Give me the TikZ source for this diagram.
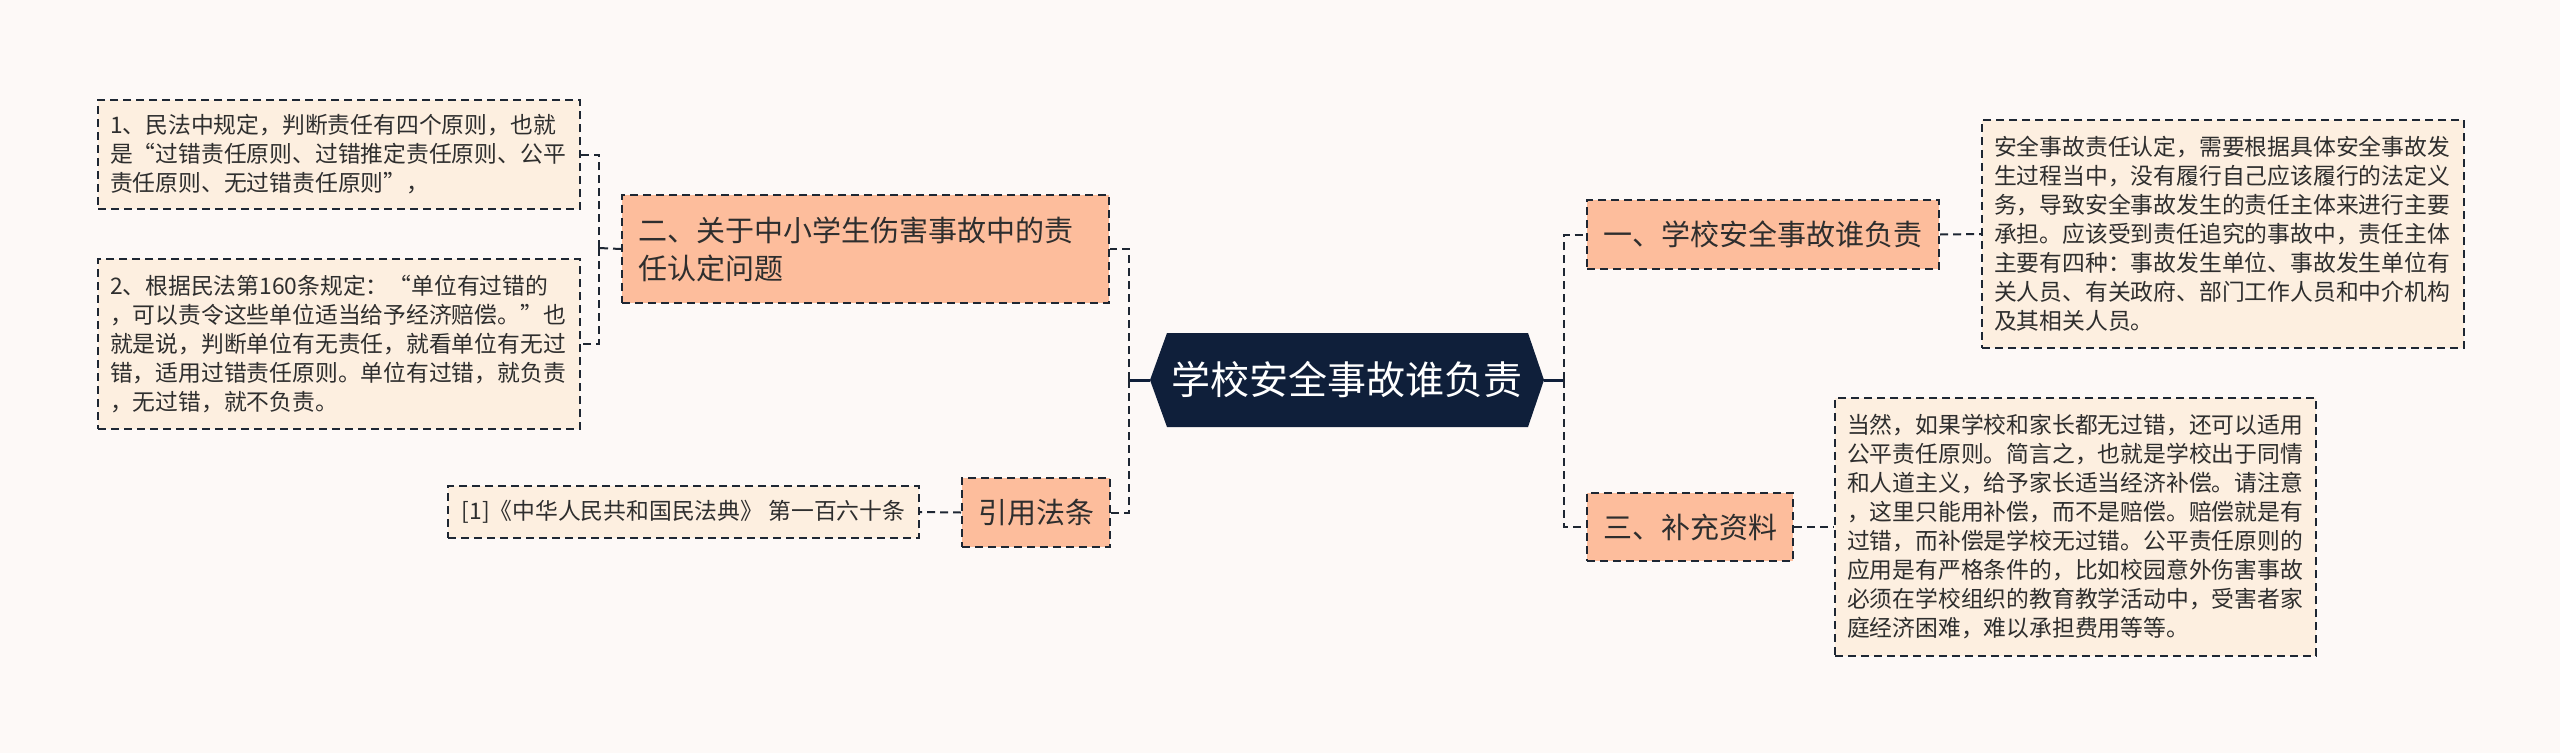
\documentclass[tikz,border=0pt]{standalone}
\usepackage{fontspec}
\setmainfont{Noto Sans CJK SC}
\definecolor{bgc}{HTML}{FDF9F7}
\definecolor{peach}{HTML}{FDBD9C}
\definecolor{cream}{HTML}{FDEFE0}
\definecolor{navy}{HTML}{0F1F3A}
\definecolor{linec}{HTML}{1E2733}
\definecolor{textc}{HTML}{2E2E2E}
\begin{document}
\begin{tikzpicture}[x=1pt,y=-1pt,
  conn/.style={draw=linec, line width=2pt, dash pattern=on 8pt off 5pt},
  solidconn/.style={draw=navy, line width=3pt},
  dashbox/.style={draw=linec, line width=2pt, dash pattern=on 8pt off 5pt, text=textc, inner ysep=0pt, anchor=north west},
  mainbox/.style={dashbox, fill=peach, font=\fontsize{29}{38}\selectfont, inner xsep=16pt, align=center},
  leafbox/.style={dashbox, fill=cream, font=\fontsize{22.8}{29}\selectfont, inner xsep=12pt, align=left}]
\fill[bgc] (0,0) rectangle (2560,753);
\useasboundingbox (0,0) rectangle (2560,753);

% central node
\fill[navy] (1150,380) -- (1167,333) -- (1528,333) -- (1544,380) -- (1528,427) -- (1167,427) -- cycle;
\node[text=white, font=\fontsize{39}{46}\selectfont, minimum width=394pt, minimum height=94pt, inner sep=0pt] (center) at (1347,380) {学校安全事故谁负责};

% left side
\node[mainbox, text width=455pt, align=left, minimum height=108pt] (two) at (621,194) {二、关于中小学生伤害事故中的责\\任认定问题};
\node[mainbox, minimum width=147pt, minimum height=69pt] (law) at (961,477) {引用法条};
\node[leafbox, text width=458pt, minimum height=109pt] (b1) at (97,99) {1、民法中规定，判断责任有四个原则，也就\\是“过错责任原则、过错推定责任原则、公平\\责任原则、无过错责任原则”，};
\node[leafbox, text width=458pt, minimum height=170pt] (b2) at (97,258) {2、根据民法第160条规定：“单位有过错的\\，可以责令这些单位适当给予经济赔偿。”也\\就是说，判断单位有无责任，就看单位有无过\\错，适用过错责任原则。单位有过错，就负责\\，无过错，就不负责。};
\node[leafbox, align=center, minimum width=471pt, minimum height=52pt] (cite) at (447,485) {[1]《中华人民共和国民法典》 第一百六十条};

% right side
\node[mainbox, minimum width=352pt, minimum height=69pt] (one) at (1586,199) {一、学校安全事故谁负责};
\node[mainbox, minimum width=205pt, minimum height=68pt] (three) at (1586,492) {三、补充资料};
\node[leafbox, text width=458pt, minimum height=228pt] (onetext) at (1981,119) {安全事故责任认定，需要根据具体安全事故发\\生过程当中，没有履行自己应该履行的法定义\\务，导致安全事故发生的责任主体来进行主要\\承担。应该受到责任追究的事故中，责任主体\\主要有四种：事故发生单位、事故发生单位有\\关人员、有关政府、部门工作人员和中介机构\\及其相关人员。};
\node[leafbox, text width=457pt, minimum height=258pt] (threetext) at (1834,397) {当然，如果学校和家长都无过错，还可以适用\\公平责任原则。简言之，也就是学校出于同情\\和人道主义，给予家长适当经济补偿。请注意\\，这里只能用补偿，而不是赔偿。赔偿就是有\\过错，而补偿是学校无过错。公平责任原则的\\应用是有严格条件的，比如校园意外伤害事故\\必须在学校组织的教育教学活动中，受害者家\\庭经济困难，难以承担费用等等。};

% buses
\coordinate (lbus) at (1129,380);
\coordinate (rbus) at (1564,380);
\coordinate (tbus) at (599,248);

\draw[solidconn] (center.west) -- (lbus);
\draw[solidconn] (center.east) -- (rbus);
\draw[conn] (lbus) |- (two.east);
\draw[conn] (lbus) |- (law.east);
\draw[conn] (rbus) |- (one.west);
\draw[conn] (rbus) |- (three.west);
\draw[conn] (two.west) -- (tbus);
\draw[conn] (tbus) |- (b1.east);
\draw[conn] (tbus) |- (b2.east);
\draw[conn] (law.west) -- (cite.east);
\draw[conn] (one.east) -- (onetext.west);
\draw[conn] (three.east) -- (threetext.west);
\end{tikzpicture}
\end{document}
